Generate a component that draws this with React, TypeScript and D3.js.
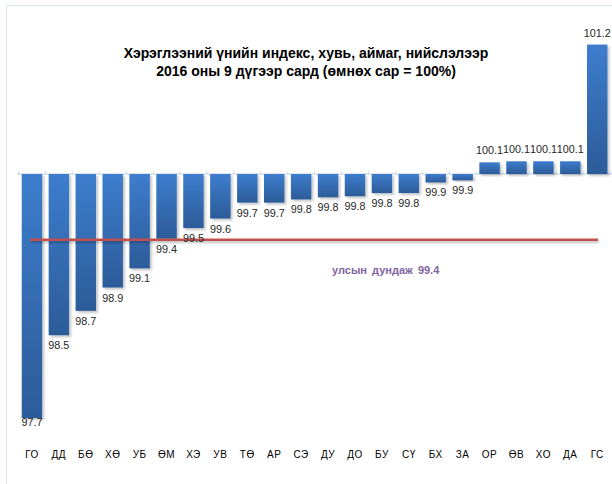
import React from "react";
import * as d3 from "d3";

const categories = ["ГО","ДД","БӨ","ХӨ","УБ","ӨМ","ХЭ","УВ","ТӨ","АР","СЭ","ДУ","ДО","БУ","СҮ","БХ","ЗА","ОР","ӨВ","ХО","ДА","ГС"];
const values = [97.70,98.48,98.71,98.93,99.11,99.39,99.49,99.58,99.73,99.73,99.76,99.78,99.79,99.82,99.82,99.92,99.94,100.11,100.12,100.12,100.12,101.22];
const baseValue = 100;
const nationalAverage = 99.38;
const titleLines = ["Хэрэглээний үнийн индекс, хувь, аймаг, нийслэлээр", "2016 оны 9 дүгээр сард (өмнөх сар = 100%)"];
const averageLabel = "улсын дундаж";

export default function App() {
  const W = 612, H = 484;
  const x = d3.scaleBand<string>().domain(categories).range([18.5, 610.7]).paddingInner(0.24).paddingOuter(0.12);
  const y = d3.scaleLinear().domain([97.7, 100]).range([418, 174]);
  const y0 = y(baseValue);
  const plotBottom = 426;
  const font = "'Liberation Sans', Arial, sans-serif";
  const step = x.step();
  const r0 = x.range()[0];
  const ya = y(nationalAverage);
  return (
    <svg width={W} height={H} style={{ position: "absolute", left: 0, top: 0 }} fontFamily={font}>
      <defs>
        <linearGradient id="barGrad" x1="0" y1="0" x2="0" y2="1">
          <stop offset="0" stopColor="#3d7dcd" />
          <stop offset="1" stopColor="#2c5c99" />
        </linearGradient>
        <filter id="shadow" x="-30%" y="-10%" width="160%" height="130%">
          <feDropShadow dx="2" dy="2" stdDeviation="1.3" floodColor="#000" floodOpacity="0.22" />
        </filter>
        <filter id="lineShadow" filterUnits="userSpaceOnUse" x={0} y={ya - 10} width={W} height={20}>
          <feDropShadow dx="1" dy="2" stdDeviation="1" floodColor="#000" floodOpacity="0.25" />
        </filter>
      </defs>
      <rect x={0} y={0} width={W} height={H} fill="#fff" />
      <path d="M6.5,484 V5.5 H612" fill="none" stroke="#dce6f2" strokeWidth={1} />
      {titleLines.map((t, i) => (
        <text key={i} x={306} y={58 + i * 18} textAnchor="middle" fontWeight="bold" fontSize={14} fill="#000">{t}</text>
      ))}
      <line x1={17} x2={612} y1={y0} y2={y0} stroke="#d3deee" strokeWidth={1.5} />
      {d3.range(categories.length + 1).map(i => (
        <line key={i} x1={r0 + i * step} x2={r0 + i * step} y1={y0 - 3} y2={y0} stroke="#d3deee" strokeWidth={1} />
      ))}
      {categories.map((c, i) => {
        const v = values[i];
        const top = Math.min(y(v), y0);
        const h = Math.abs(y(v) - y0);
        return (
          <rect key={c} x={x(c)} y={top} width={x.bandwidth()} height={h} fill="url(#barGrad)" filter="url(#shadow)" />
        );
      })}
      <line x1={30} x2={598} y1={ya} y2={ya} stroke="#c0504d" strokeWidth={2.5} filter="url(#lineShadow)" />
      {categories.map((c, i) => {
        const v = values[i];
        const cx = (x(c) as number) + x.bandwidth() / 2;
        const ly = v < baseValue ? Math.min(y(v) + 14, plotBottom) : y(v) - 8;
        return (
          <text key={c} x={cx} y={ly} textAnchor="middle" fontSize={10.8} fill="#262626">{v.toFixed(1)}</text>
        );
      })}
      {categories.map(c => (
        <text key={c} x={(x(c) as number) + x.bandwidth() / 2} y={458} textAnchor="middle" fontSize={10} letterSpacing={0.5} fill="#000">{c}</text>
      ))}
      <text x={332} y={274} fontWeight="bold" fontSize={11} wordSpacing={2} fill="#8064a2">{averageLabel} {nationalAverage.toFixed(1)}</text>
    </svg>
  );
}
